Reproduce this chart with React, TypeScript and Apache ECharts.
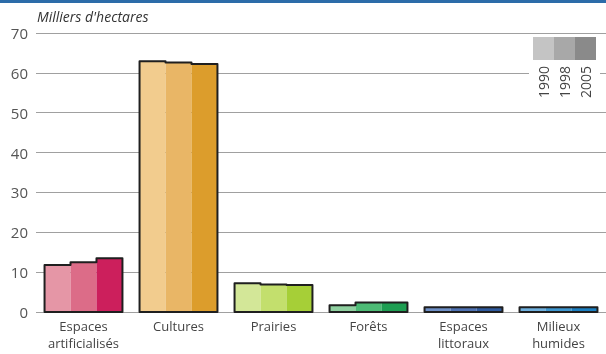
import React, { useEffect, useRef } from "react";
import * as echarts from "echarts";

const categories = ["Espaces\nartificialisés", "Cultures", "Prairies", "Forêts", "Espaces\nlittoraux", "Milieux\nhumides"];
const years = ["1990", "1998", "2005"];
const values1990 = [11.8, 62.9, 7.2, 1.7, 1.2, 1.2];
const values1998 = [12.5, 62.6, 6.9, 2.4, 1.2, 1.2];
const values2005 = [13.5, 62.2, 6.8, 2.4, 1.2, 1.2];
const yTicks = [0, 10, 20, 30, 40, 50, 60, 70];

const palette1990 = ["#e596a6", "#f2cc8e", "#d3e798", "#8fd0a0", "#6e8fc6", "#6fb0de"];
const palette1998 = ["#dc6c88", "#e9b666", "#c3df6d", "#4dbb75", "#4f72b3", "#3e97d0"];
const palette2005 = ["#cc1f5c", "#dc9d2c", "#a6cf37", "#1e9e52", "#2f5a9e", "#1c80c2"];
const legendColors = ["#c4c4c4", "#a8a8a8", "#8a8a8a"];

const GAP = 0.18;

export default function App() {
  const ref = useRef<HTMLDivElement>(null);
  useEffect(() => {
    const chart = echarts.init(ref.current!, null, { renderer: "svg" });
    const mk = (vals: number[], pal: string[]) =>
      vals.map((v, i) => ({ value: v, itemStyle: { color: pal[i] } }));
    const outlineData = categories.map((_, i) => [i, values1990[i], values1998[i], values2005[i]]);
    const font = "'Open Sans', sans-serif";
    chart.setOption({
      animation: false,
      grid: { left: 36, right: 0, top: 33, bottom: 42 },
      xAxis: {
        type: "category",
        data: categories,
        axisLine: { show: false },
        axisTick: { show: false },
        axisLabel: { color: "#444", fontSize: 13, fontFamily: font, lineHeight: 17, margin: 5, interval: 0 },
      },
      yAxis: {
        type: "value",
        min: yTicks[0],
        max: yTicks[yTicks.length - 1],
        interval: 10,
        axisLine: { show: false },
        axisTick: { show: false },
        axisLabel: { color: "#555", fontSize: 15, fontFamily: font, margin: 8 },
        splitLine: { lineStyle: { color: "#a0a0a0", width: 1 } },
      },
      series: [
        { type: "bar", name: years[0], data: mk(values1990, palette1990), barGap: "0%", barCategoryGap: GAP * 100 + "%" },
        { type: "bar", name: years[1], data: mk(values1998, palette1998), barGap: "0%", barCategoryGap: GAP * 100 + "%" },
        { type: "bar", name: years[2], data: mk(values2005, palette2005), barGap: "0%", barCategoryGap: GAP * 100 + "%" },
        {
          type: "custom",
          data: outlineData,
          encode: { x: 0, y: 1 },
          z: 5,
          renderItem: (params: any, api: any) => {
            const idx = api.value(0);
            const base = api.coord([idx, 0]);
            const band = api.size([1, 0])[0];
            const gw = band * (1 - GAP);
            const bw = gw / 3;
            const x0 = base[0] - gw / 2;
            const y0 = base[1];
            const pts: number[][] = [[x0, y0]];
            for (let k = 0; k < 3; k++) {
              const y = api.coord([idx, api.value(k + 1)])[1];
              pts.push([x0 + k * bw, y]);
              pts.push([x0 + (k + 1) * bw, y]);
            }
            pts.push([x0 + gw, y0]);
            return {
              type: "polygon",
              shape: { points: pts },
              style: { fill: "none", stroke: "#1f1f1f", lineWidth: 2, lineJoin: "round" },
            };
          },
        },
      ],
      graphic: [
        { type: "rect", shape: { x: 0, y: 0, width: 606, height: 3 }, style: { fill: "#2c6ca9" }, z: 10 },
        {
          type: "text",
          x: 37,
          y: 9,
          style: { text: "Milliers d'hectares", fill: "#333", fontSize: 14, fontStyle: "italic", fontFamily: font },
          z: 10,
        },
        { type: "rect", shape: { x: 529, y: 62, width: 71, height: 40 }, style: { fill: "#fff" }, z: 10 },
        ...years.map((y, i) => ({
          type: "rect",
          shape: { x: 533 + i * 21, y: 37, width: 21, height: 23 },
          style: { fill: legendColors[i] },
          z: 11,
        })),
        ...years.map((y, i) => ({
          type: "text",
          x: 543.5 + i * 21,
          y: 82,
          rotation: Math.PI / 2,
          style: {
            text: y,
            fill: "#444",
            fontSize: 14,
            fontFamily: font,
            align: "center",
            verticalAlign: "middle",
          },
          z: 11,
        })),
      ],
    });
    return () => chart.dispose();
  }, []);
  return <div ref={ref} style={{ position: "fixed", left: 0, top: 0, width: 606, height: 354 }} />;
}
